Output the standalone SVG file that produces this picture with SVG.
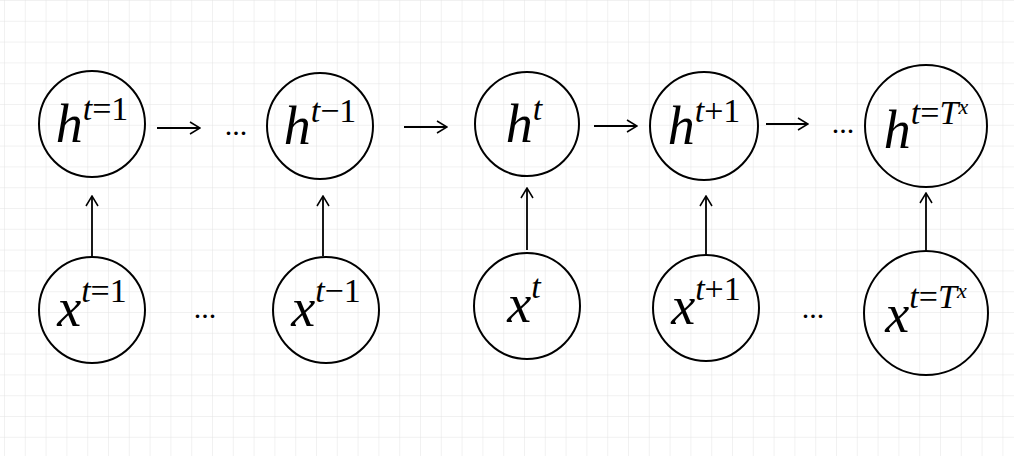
<svg xmlns="http://www.w3.org/2000/svg" width="1014" height="456" viewBox="0 0 1014 456">
<defs>
<pattern id="grid" x="4" y="0" width="20.8" height="20.8" patternUnits="userSpaceOnUse">
<path d="M0 0H20.8M0 0V20.8" fill="none" stroke="#e4e4e4" stroke-width="1"/>
</pattern>
<marker id="ah" viewBox="0 0 12 14" refX="11" refY="7" markerWidth="12" markerHeight="14" markerUnits="userSpaceOnUse" orient="auto">
<path d="M1 1L11 7L1 13" fill="none" stroke="#000" stroke-width="1.5"/>
</marker>
<style>
.n{fill:none;stroke:#000;stroke-width:2}
.c{stroke:#000;stroke-width:1.8;fill:none;marker-end:url(#ah)}
text,tspan{font-family:"Liberation Serif","DejaVu Serif",serif;fill:#000}
.b{font-size:54px;font-style:italic}
.s{font-size:34px}
.i{font-style:italic}
.d{font-size:30px}
</style>
</defs>
<rect width="1014" height="456" fill="#fff"/>
<rect width="1014" height="456" fill="url(#grid)"/>
<g id="connectors">
<line class="c" x1="157" y1="128" x2="200" y2="128"/>
<line class="c" x1="404" y1="127" x2="447" y2="127"/>
<line class="c" x1="594" y1="126" x2="637" y2="126"/>
<line class="c" x1="766" y1="124" x2="808" y2="124"/>
<line class="c" x1="92" y1="258" x2="92" y2="196"/>
<line class="c" x1="323" y1="256" x2="323" y2="196"/>
<line class="c" x1="527" y1="250" x2="527" y2="188"/>
<line class="c" x1="706" y1="255" x2="706" y2="196"/>
<line class="c" x1="926" y1="251" x2="926" y2="193"/>
<text class="d" font-family="Liberation Serif, serif" x="236" y="135" text-anchor="middle">...</text>
<text class="d" font-family="Liberation Serif, serif" x="843" y="133" text-anchor="middle">...</text>
<text class="d" font-family="Liberation Serif, serif" x="205" y="318" text-anchor="middle">...</text>
<text class="d" font-family="Liberation Serif, serif" x="813" y="318" text-anchor="middle">...</text>
</g>
<g id="h1"><circle class="n" cx="92" cy="124" r="53"/><text font-family="Liberation Serif, serif" x="92" y="142" text-anchor="middle"><tspan class="b">h</tspan><tspan class="s" dy="-22"><tspan class="i">t</tspan>=1</tspan></text></g>
<g id="htm1"><circle class="n" cx="320" cy="126" r="53"/><text font-family="Liberation Serif, serif" x="320" y="144" text-anchor="middle"><tspan class="b">h</tspan><tspan class="s" dy="-22"><tspan class="i">t</tspan>−1</tspan></text></g>
<g id="ht"><circle class="n" cx="527" cy="124" r="52"/><text font-family="Liberation Serif, serif" x="524" y="142" text-anchor="middle"><tspan class="b">h</tspan><tspan class="s i" dy="-22">t</tspan></text></g>
<g id="htp1"><circle class="n" cx="704" cy="126" r="54"/><text font-family="Liberation Serif, serif" x="704" y="144" text-anchor="middle"><tspan class="b">h</tspan><tspan class="s" dy="-22"><tspan class="i">t</tspan>+1</tspan></text></g>
<g id="hT"><circle class="n" cx="926" cy="126" r="61"/><text font-family="Liberation Serif, serif" x="926" y="148" text-anchor="middle"><tspan class="b">h</tspan><tspan class="s" dy="-24"><tspan class="i">t</tspan>=<tspan class="i">T</tspan></tspan><tspan font-size="22" font-style="italic" dy="-10">x</tspan></text></g>
<g id="x1"><circle class="n" cx="92" cy="310" r="53"/><text font-family="Liberation Serif, serif" x="92" y="326" text-anchor="middle"><tspan class="b">x</tspan><tspan class="s" dy="-24"><tspan class="i">t</tspan>=1</tspan></text></g>
<g id="xtm1"><circle class="n" cx="326" cy="310" r="53"/><text font-family="Liberation Serif, serif" x="326" y="326" text-anchor="middle"><tspan class="b">x</tspan><tspan class="s" dy="-24"><tspan class="i">t</tspan>−1</tspan></text></g>
<g id="xt"><circle class="n" cx="527" cy="306" r="53"/><text font-family="Liberation Serif, serif" x="524" y="322" text-anchor="middle"><tspan class="b">x</tspan><tspan class="s i" dy="-24">t</tspan></text></g>
<g id="xtp1"><circle class="n" cx="706" cy="308" r="53"/><text font-family="Liberation Serif, serif" x="706" y="324" text-anchor="middle"><tspan class="b">x</tspan><tspan class="s" dy="-24"><tspan class="i">t</tspan>+1</tspan></text></g>
<g id="xT"><circle class="n" cx="926" cy="313" r="62"/><text font-family="Liberation Serif, serif" x="926" y="332" text-anchor="middle"><tspan class="b">x</tspan><tspan class="s" dy="-24"><tspan class="i">t</tspan>=<tspan class="i">T</tspan></tspan><tspan font-size="22" font-style="italic" dy="-10">x</tspan></text></g>
</svg>
